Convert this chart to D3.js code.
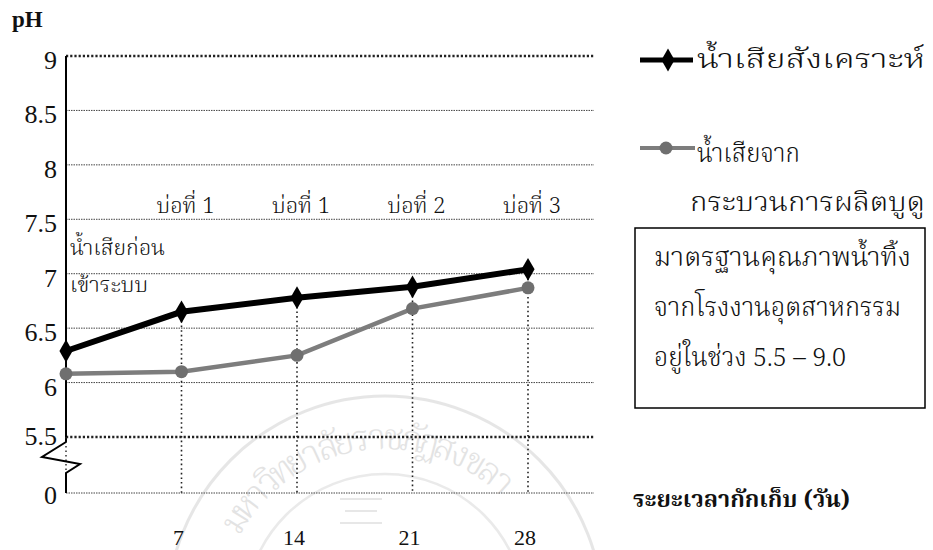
<!DOCTYPE html>
<html>
<head>
<meta charset="utf-8">
<script src="https://cdn.jsdelivr.net/npm/d3@7"></script>
<style>
  html, body { margin: 0; padding: 0; background: #fff; }
  svg { display: block; }
  .num { font-family: "Liberation Serif", "Times New Roman", serif; fill: #111; }
  .thai { font-family: "Noto Serif Thai", "Noto Sans Thai", "Loma", "Garuda", "Norasi", "Noto Sans", "DejaVu Sans", serif; fill: #111; font-weight: 300; }
</style>
</head>
<body>
<svg id="chart" width="933" height="550"></svg>
<script>
// Retention time (days) and pH of the two wastewaters
const days = [0, 7, 14, 21, 28];
const syntheticPH = [6.29, 6.65, 6.78, 6.88, 7.04];
const buduPH = [6.08, 6.10, 6.25, 6.68, 6.87];

// Axis ticks
const yTicks = [0, 5.5, 6, 6.5, 7, 7.5, 8, 8.5, 9];
const yTickLabels = ["0", "5.5", "6", "6.5", "7", "7.5", "8", "8.5", "9"];
const xTicks = [7, 14, 21, 28];
const xTickLabels = ["7", "14", "21", "28"];
const pondLabels = ["บ่อที่ 1", "บ่อที่ 1", "บ่อที่ 2", "บ่อที่ 3"];
const limitLines = [5.5, 9];

const seriesNames = ["น้ำเสียสังเคราะห์", "น้ำเสียจาก"];
const seriesNameCont = "กระบวนการผลิตบูดู";
const standardLines = ["มาตรฐานคุณภาพน้ำทิ้ง", "จากโรงงานอุตสาหกรรม", "อยู่ในช่วง 5.5 – 9.0"];
const beforeLabel = ["น้ำเสียก่อน", "เข้าระบบ"];
const xTitle = "ระยะเวลากักเก็บ (วัน)";
const yTitle = "pH";
const sealText = "มหาวิทยาลัยราชภัฏสงขลา";

const svg = d3.select("#chart");

// Broken value axis: 0 sits just below the 5.5 line
const y = d3.scaleLinear().domain([0, 5.5, 9]).range([493, 437, 56]);
const x = d3.scaleLinear().domain([0, 32]).range([66, 594]);
const x0 = x(0), xEnd = x(32);

// Faint university seal in the background, lettering set glyph by glyph on an arc
const seal = svg.append("g").attr("opacity", 0.5);
const sc = { cx: 385, cy: 614 };
seal.append("circle").attr("cx", sc.cx).attr("cy", sc.cy).attr("r", 218)
  .attr("fill", "none").attr("stroke", "#cfcfcf").attr("stroke-width", 3);
seal.append("circle").attr("cx", sc.cx).attr("cy", sc.cy).attr("r", 140)
  .attr("fill", "none").attr("stroke", "#d6d6d6").attr("stroke-width", 2.5);
const clusters = (typeof Intl !== "undefined" && Intl.Segmenter)
  ? Array.from(new Intl.Segmenter("th", { granularity: "grapheme" }).segment(sealText), s => s.segment)
  : Array.from(sealText);
const arcAngle = d3.scaleLinear().domain([0, clusters.length - 1]).range([-148, -48]);
const rr = 165;
seal.selectAll("text.seal").data(clusters).join("text").attr("class", "thai seal")
  .style("fill", "#c8c8c8").attr("font-size", 36).attr("text-anchor", "middle")
  .attr("transform", (d, i) => {
    const a = arcAngle(i);
    const r = a * Math.PI / 180;
    return `translate(${sc.cx + rr * Math.cos(r)},${sc.cy + rr * Math.sin(r)}) rotate(${a + 90})`;
  })
  .text(d => d);
[498, 510, 522].forEach((yy, i) => {
  seal.append("rect").attr("x", 340 + (i % 2) * 5).attr("y", yy).attr("width", 42 - (i % 2) * 10).attr("height", 2)
    .attr("fill", "#d0d0d0");
});

// Gridlines
const grid = svg.append("g");
grid.selectAll("line.minor")
  .data(yTicks.filter(v => !limitLines.includes(v)))
  .join("line").attr("class", "minor")
  .attr("x1", x0).attr("x2", xEnd)
  .attr("y1", d => y(d)).attr("y2", d => y(d))
  .attr("stroke", "#444").attr("stroke-width", 1).attr("stroke-dasharray", "1.5,1");
grid.selectAll("line.limit")
  .data(limitLines)
  .join("line").attr("class", "limit")
  .attr("x1", x0).attr("x2", xEnd)
  .attr("y1", d => y(d)).attr("y2", d => y(d))
  .attr("stroke", "#222").attr("stroke-width", 2.6).attr("stroke-dasharray", "2.2,2");

// Drop lines from each point down to the base
svg.append("g").selectAll("line")
  .data(days.map((d, i) => ({ d, v: syntheticPH[i] })).filter(p => p.d > 0))
  .join("line")
  .attr("x1", p => x(p.d)).attr("x2", p => x(p.d))
  .attr("y1", p => y(p.v)).attr("y2", y(0))
  .attr("stroke", "#222").attr("stroke-width", 1.6).attr("stroke-dasharray", "1.6,3");

// Value axis with break symbol
const axis = svg.append("g");
axis.append("line").attr("x1", x0).attr("x2", x0).attr("y1", y(9)).attr("y2", 442)
  .attr("stroke", "#000").attr("stroke-width", 2);
axis.append("line").attr("x1", x0).attr("x2", x0).attr("y1", y(5.5)).attr("y2", y(0))
  .attr("stroke", "#222").attr("stroke-width", 1.4).attr("stroke-dasharray", "1.5,3");
axis.append("polyline")
  .attr("points", `${x0},442 ${x0 - 24},457 ${x0 + 14},464 ${x0},473 ${x0},${y(0)}`)
  .attr("fill", "none").attr("stroke", "#000").attr("stroke-width", 2);

axis.selectAll("text")
  .data(yTicks)
  .join("text").attr("class", "num")
  .attr("x", 57).attr("y", d => y(d) + (d === 5.5 ? 8 : d === 0 ? 11 : 13))
  .attr("text-anchor", "end").attr("font-size", 26)
  .text((d, i) => yTickLabels[i]);

svg.append("g").selectAll("text")
  .data(xTicks)
  .join("text").attr("class", "num")
  .attr("x", d => x(d) - 3).attr("y", 545)
  .attr("text-anchor", "middle").attr("font-size", 22)
  .text((d, i) => xTickLabels[i]);

svg.append("text").attr("class", "num").attr("x", 12).attr("y", 27)
  .attr("font-size", 23).attr("font-weight", "bold").text(yTitle);

// Pond labels above the points
svg.append("g").selectAll("text")
  .data(xTicks)
  .join("text").attr("class", "thai")
  .attr("x", d => x(d) + 4).attr("y", 213)
  .attr("text-anchor", "middle").attr("font-size", 22)
  .text((d, i) => pondLabels[i]);

svg.append("text").attr("class", "thai").attr("x", 70).attr("y", 255).attr("font-size", 22)
  .attr("textLength", 95).attr("lengthAdjust", "spacingAndGlyphs").text(beforeLabel[0]);
svg.append("text").attr("class", "thai").attr("x", 70).attr("y", 292).attr("font-size", 22)
  .attr("textLength", 78).attr("lengthAdjust", "spacingAndGlyphs").text(beforeLabel[1]);

// Series
const line = d3.line().x(d => x(d[0])).y(d => y(d[1]));
const buduPts = days.map((d, i) => [d, buduPH[i]]);
const synPts = days.map((d, i) => [d, syntheticPH[i]]);

svg.append("path").datum(buduPts).attr("d", line)
  .attr("fill", "none").attr("stroke", "#7d7d7d").attr("stroke-width", 4.5);
svg.append("g").selectAll("circle").data(buduPts).join("circle")
  .attr("cx", d => x(d[0])).attr("cy", d => y(d[1])).attr("r", 6.5)
  .attr("fill", "#6f6f6f");

svg.append("path").datum(synPts).attr("d", line)
  .attr("fill", "none").attr("stroke", "#000").attr("stroke-width", 6);
const diamond = d3.symbol().type(d3.symbolDiamond).size(150);
svg.append("g").selectAll("path").data(synPts).join("path")
  .attr("transform", d => `translate(${x(d[0])},${y(d[1])})`)
  .attr("d", diamond).attr("fill", "#000");

// Legend
const lg = svg.append("g");
lg.append("line").attr("x1", 640).attr("x2", 693).attr("y1", 60).attr("y2", 60)
  .attr("stroke", "#000").attr("stroke-width", 5);
lg.append("path").attr("transform", "translate(668,60)").attr("d", diamond).attr("fill", "#000");
lg.append("text").attr("class", "thai").attr("x", 697).attr("y", 68).attr("font-size", 26)
  .attr("textLength", 228).attr("lengthAdjust", "spacingAndGlyphs").text(seriesNames[0]);

lg.append("line").attr("x1", 640).attr("x2", 695).attr("y1", 148).attr("y2", 148)
  .attr("stroke", "#7d7d7d").attr("stroke-width", 4);
lg.append("circle").attr("cx", 666).attr("cy", 148).attr("r", 6.5).attr("fill", "#6f6f6f");
lg.append("text").attr("class", "thai").attr("x", 697).attr("y", 162).attr("font-size", 26)
  .attr("textLength", 103).attr("lengthAdjust", "spacingAndGlyphs").text(seriesNames[1]);
lg.append("text").attr("class", "thai").attr("x", 690).attr("y", 211).attr("font-size", 26)
  .attr("textLength", 235).attr("lengthAdjust", "spacingAndGlyphs").text(seriesNameCont);

// Standard note box
const standardWidths = [257, 247, 192];
const box = svg.append("g");
box.append("rect").attr("x", 635).attr("y", 228).attr("width", 290).attr("height", 180)
  .attr("fill", "none").attr("stroke", "#000").attr("stroke-width", 1.5);
box.selectAll("text").data(standardLines).join("text").attr("class", "thai")
  .attr("x", 654).attr("y", (d, i) => 266 + i * 50).attr("font-size", 26)
  .attr("textLength", (d, i) => standardWidths[i]).attr("lengthAdjust", "spacingAndGlyphs")
  .text(d => d);

svg.append("text").attr("class", "thai").attr("x", 633).attr("y", 507)
  .attr("font-size", 23).style("font-weight", "bold")
  .attr("textLength", 217).attr("lengthAdjust", "spacingAndGlyphs").text(xTitle);
</script>
</body>
</html>
